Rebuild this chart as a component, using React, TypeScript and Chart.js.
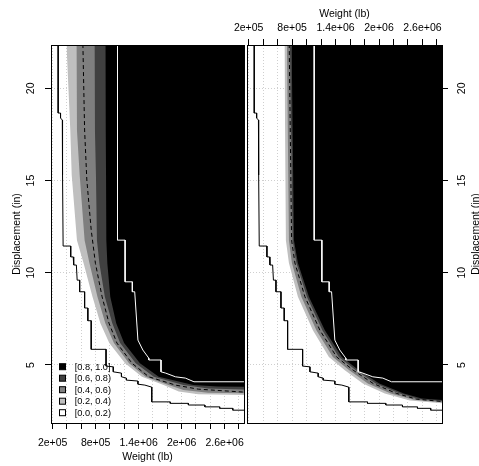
import React, { useEffect, useRef } from 'react';
import { Chart, registerables } from 'chart.js';

Chart.register(...registerables);

const FONT = "'Liberation Sans', Arial, Helvetica, sans-serif";

// ---------- axes ----------
const weightRange = [177000, 2870000];
const displacementRange = [1.855, 22.35];
const weightTicks = [200000, 400000, 600000, 800000, 1000000, 1200000, 1400000, 1600000, 1800000, 2000000, 2200000, 2400000, 2600000, 2800000];
const weightLabelValues = [200000, 800000, 1400000, 2000000, 2600000];
const weightLabels = ['2e+05', '8e+05', '1.4e+06', '2e+06', '2.6e+06'];
const displacementTicks = [5, 10, 15, 20];
const displacementLabels = ['5', '10', '15', '20'];
const weightTitle = 'Weight (lb)';
const displacementTitle = 'Displacement (in)';

// ---------- key ----------
const levelLabels = ['[0.0, 0.2)', '[0.2, 0.4)', '[0.4, 0.6)', '[0.6, 0.8)', '[0.8, 1.0]'];
const levelColors = ['#ffffff', '#bfbfbf', '#7f7f7f', '#404040', '#000000'];

type Pt = [number, number];

// ---------- observed step contours (same in both panels) ----------
const lowerStep: Pt[] = [
  [277000, 22.4], [277000, 18.66], [310000, 18.66], [310000, 18.39], [335000, 18.28], [338000, 15.3],
  [346000, 11.45], [452000, 11.45], [452000, 10.86], [487000, 10.86], [494000, 10.42], [531000, 10.42],
  [542000, 9.6], [577000, 9.6], [577000, 8.97], [646000, 8.97], [646000, 8.09], [691000, 8.09],
  [691000, 7.4], [738000, 7.4], [738000, 5.85], [945000, 5.85], [945000, 4.94], [1046000, 4.9],
  [1046000, 4.63], [1160000, 4.56], [1160000, 4.36], [1229000, 4.29], [1229000, 4.18], [1390000, 4.13],
  [1390000, 3.96], [1487000, 3.91], [1583000, 3.8], [1583000, 3.0], [1841000, 3.0], [1841000, 2.92],
  [2094000, 2.92], [2094000, 2.83], [2324000, 2.83], [2324000, 2.73], [2531000, 2.73], [2531000, 2.65],
  [2714000, 2.65], [2714000, 2.55], [2870000, 2.55],
];
const upperStep: Pt[] = [
  [1105000, 22.4], [1105000, 11.77], [1211000, 11.77], [1211000, 9.51], [1312000, 9.51], [1312000, 8.97],
  [1345000, 8.97], [1390000, 6.35], [1459000, 5.81], [1542000, 5.37], [1542000, 5.27], [1712000, 5.27],
  [1712000, 4.63], [1777000, 4.56], [1914000, 4.36], [2052000, 4.29], [2172000, 4.09], [2870000, 4.09],
];

// ---------- left panel level boundaries ----------
const leftLevel02: Pt[] = [
  [393000, 22.4], [446000, 17.74], [466000, 15.3], [539000, 11.77], [632000, 10.51], [756000, 8.7],
  [866000, 7.27], [990000, 6.19], [1211000, 5.09], [1446000, 4.36], [1749000, 3.91], [1959000, 3.56],
  [2232000, 3.42], [2870000, 3.37],
];
const leftLevel04: Pt[] = [
  [531000, 22.4], [539000, 17.74], [577000, 15.3], [646000, 11.77], [714000, 10.51], [825000, 8.7],
  [935000, 7.27], [1055000, 6.19], [1266000, 5.09], [1497000, 4.36], [1818000, 3.91], [2025000, 3.64],
  [2370000, 3.5], [2870000, 3.47],
];
const leftLevel06: Pt[] = [
  [783000, 22.4], [790000, 17.74], [804000, 15.3], [818000, 11.77], [852000, 10.51], [928000, 8.7],
  [1032000, 7.27], [1142000, 6.19], [1359000, 5.09], [1611000, 4.36], [2025000, 3.91], [2370000, 3.72],
  [2870000, 3.67],
];
const leftLevel08: Pt[] = [
  [935000, 22.4], [939000, 17.74], [945000, 15.3], [949000, 11.77], [963000, 10.51], [1004000, 8.7],
  [1087000, 7.27], [1197000, 6.19], [1418000, 5.09], [1680000, 4.36], [2163000, 3.91], [2508000, 3.84],
  [2870000, 3.82],
];
const leftMedian: Pt[] = [
  [622000, 22.4], [646000, 17.74], [677000, 15.03], [738000, 12.32], [797000, 10.51], [890000, 8.7],
  [986000, 7.27], [1097000, 6.19], [1308000, 5.09], [1542000, 4.36], [1914000, 3.91], [2232000, 3.69],
  [2870000, 3.53],
];

// ---------- right panel level boundaries ----------
const rightLevel02: Pt[] = [
  [694000, 22.4], [714000, 11.77], [756000, 10.53], [880000, 8.7], [1087000, 6.89], [1308000, 5.44],
  [1528000, 4.72], [1777000, 4.0], [2080000, 3.46], [2425000, 3.07], [2870000, 2.93],
];
const rightLevel04: Pt[] = [
  [728000, 22.4], [756000, 11.77], [797000, 10.53], [928000, 8.7], [1135000, 6.89], [1363000, 5.44],
  [1590000, 4.72], [1846000, 4.0], [2163000, 3.46], [2480000, 3.11], [2870000, 2.98],
];
const rightLevel06: Pt[] = [
  [770000, 22.4], [807000, 11.77], [859000, 10.53], [1004000, 8.7], [1218000, 6.89], [1446000, 5.44],
  [1680000, 4.72], [1956000, 4.0], [2287000, 3.46], [2563000, 3.14], [2870000, 3.05],
];
const rightLevel08: Pt[] = [
  [793000, 22.4], [825000, 11.77], [880000, 10.53], [1032000, 8.7], [1252000, 6.89], [1487000, 5.44],
  [1721000, 4.72], [2004000, 4.0], [2342000, 3.46], [2590000, 3.18], [2870000, 3.1],
];
const rightMedian: Pt[] = [
  [760000, 22.4], [793000, 11.77], [839000, 10.53], [977000, 8.7], [1183000, 6.89], [1414000, 5.44],
  [1643000, 4.72], [1919000, 4.0], [2241000, 3.46], [2517000, 3.15], [2870000, 3.02],
];

const toXY = (pts: Pt[]) => pts.map(([x, y]) => ({ x, y }));

function buildDatasets(bands: Pt[][], median: Pt[]) {
  const ds: any[] = [];
  bands.forEach((curve, i) => {
    ds.push({
      data: toXY(curve),
      fill: 'end',
      backgroundColor: levelColors[i + 1],
      borderColor: 'rgba(0,0,0,0)',
      borderWidth: 0,
      pointRadius: 0,
      order: 10 - i,
    });
  });
  ds.push({ data: toXY(upperStep), fill: false, borderColor: '#ffffff', borderWidth: 1, pointRadius: 0, order: 3 });
  ds.push({ data: toXY(lowerStep), fill: false, borderColor: '#000000', borderWidth: 1, pointRadius: 0, order: 2 });
  ds.push({ data: toXY(median), fill: false, borderColor: '#000000', borderWidth: 1, borderDash: [4, 3], pointRadius: 0, order: 1 });
  return ds;
}

const tickFont = { family: FONT, size: 10.5 };
const gridOpts = {
  color: '#cfcfcf', lineWidth: 1, tickLength: 6, tickColor: '#000', tickWidth: 1,
  tickBorderDash: [], drawTicks: true, drawOnChartArea: true,
};
const borderOpts = { display: false, dash: [1, 2] };

function xScale(position: 'top' | 'bottom') {
  return {
    type: 'linear', position, min: weightRange[0], max: weightRange[1],
    afterBuildTicks: (s: any) => { s.ticks = weightTicks.map((v) => ({ value: v })); },
    afterFit: (s: any) => { s.height = position === 'top' ? 45 : 43; },
    ticks: {
      autoSkip: false, minRotation: 0, maxRotation: 0, padding: position === 'top' ? 5 : 8,
      color: '#000', font: tickFont,
      callback: (v: any) => {
        const i = weightLabelValues.findIndex((w) => Math.abs(w - Number(v)) < 1);
        return i >= 0 ? weightLabels[i] : '';
      },
    },
    grid: gridOpts,
    border: borderOpts,
    title: {
      display: true, text: weightTitle, color: '#000', font: tickFont,
      padding: position === 'top' ? { top: 8, bottom: 0 } : { top: 0, bottom: 3 },
    },
  };
}

function yScale(position: 'left' | 'right') {
  return {
    type: 'linear', position, min: displacementRange[0], max: displacementRange[1],
    afterBuildTicks: (s: any) => { s.ticks = displacementTicks.map((v) => ({ value: v })); },
    afterFit: (s: any) => { s.width = position === 'left' ? 51 : 37; },
    ticks: {
      autoSkip: false, minRotation: 90, maxRotation: 90, crossAlign: 'center', padding: 8,
      color: '#000', font: tickFont,
      callback: (v: any) => {
        const i = displacementTicks.findIndex((d) => Math.abs(d - Number(v)) < 1e-6);
        return i >= 0 ? displacementLabels[i] : '';
      },
    },
    grid: gridOpts,
    border: borderOpts,
    title: position === 'left'
      ? { display: true, text: displacementTitle, color: '#000', font: tickFont, padding: { top: 11, bottom: 0 } }
      : { display: false },
  };
}

const panelBox = {
  id: 'panelBox',
  afterDatasetsDraw(chart: any) {
    const { ctx, chartArea: a } = chart;
    ctx.save();
    ctx.strokeStyle = '#000';
    ctx.lineWidth = 1;
    ctx.setLineDash([]);
    ctx.strokeRect(a.left + 0.5, a.top + 0.5, a.right - a.left, a.bottom - a.top);
    ctx.restore();
  },
};

const levelKey = {
  id: 'levelKey',
  afterDraw(chart: any) {
    const { ctx, chartArea: a } = chart;
    ctx.save();
    ctx.font = `9.2px ${FONT}`;
    ctx.textAlign = 'left';
    ctx.textBaseline = 'middle';
    levelLabels.forEach((label, i) => {
      const cy = a.bottom - 10.3 - i * 11.5;
      const sx = a.left + 8.5;
      ctx.fillStyle = levelColors[i];
      ctx.fillRect(sx, cy - 3, 6, 6);
      ctx.strokeStyle = '#000';
      ctx.lineWidth = 1;
      ctx.strokeRect(sx, cy - 3, 6, 6);
      ctx.fillStyle = '#000';
      ctx.fillText(label, a.left + 23.7, cy + 0.5);
    });
    ctx.restore();
  },
};

const rightTitle = {
  id: 'rightTitle',
  afterDraw(chart: any) {
    const { ctx, chartArea: a } = chart;
    ctx.save();
    ctx.translate(a.right + 34, (a.top + a.bottom) / 2);
    ctx.rotate(-Math.PI / 2);
    ctx.font = `10.5px ${FONT}`;
    ctx.fillStyle = '#000';
    ctx.textAlign = 'center';
    ctx.textBaseline = 'middle';
    ctx.fillText(displacementTitle, 0, 0);
    ctx.restore();
  },
};

export default function App() {
  const leftRef = useRef<HTMLCanvasElement>(null);
  const rightRef = useRef<HTMLCanvasElement>(null);

  useEffect(() => {
    Chart.defaults.font.family = FONT;
    Chart.defaults.color = '#000';
    const common = {
      animation: false, responsive: false, maintainAspectRatio: false, devicePixelRatio: 1, events: [],
      plugins: { legend: { display: false }, tooltip: { enabled: false } },
    };
    const left = new Chart(leftRef.current as HTMLCanvasElement, {
      type: 'line',
      data: { datasets: buildDatasets([leftLevel02, leftLevel04, leftLevel06, leftLevel08], leftMedian) },
      options: {
        ...common,
        layout: { padding: { left: 0, top: 45, right: 1, bottom: 0 } },
        scales: { x: xScale('bottom'), y: yScale('left') },
      } as any,
      plugins: [panelBox, levelKey],
    });
    const right = new Chart(rightRef.current as HTMLCanvasElement, {
      type: 'line',
      data: { datasets: buildDatasets([rightLevel02, rightLevel04, rightLevel06, rightLevel08], rightMedian) },
      options: {
        ...common,
        layout: { padding: { left: 47, top: 0, right: 0, bottom: 43 } },
        scales: { x: xScale('top'), y: yScale('right') },
      } as any,
      plugins: [panelBox, rightTitle],
    });
    return () => { left.destroy(); right.destroy(); };
  }, []);

  return (
    <div style={{ position: 'absolute', left: 0, top: 0, width: 479, height: 466, background: '#fff' }}>
      <canvas ref={leftRef} width={247} height={466} style={{ position: 'absolute', left: 0, top: 0 }} />
      <canvas ref={rightRef} width={279} height={466} style={{ position: 'absolute', left: 200, top: 0 }} />
    </div>
  );
}
